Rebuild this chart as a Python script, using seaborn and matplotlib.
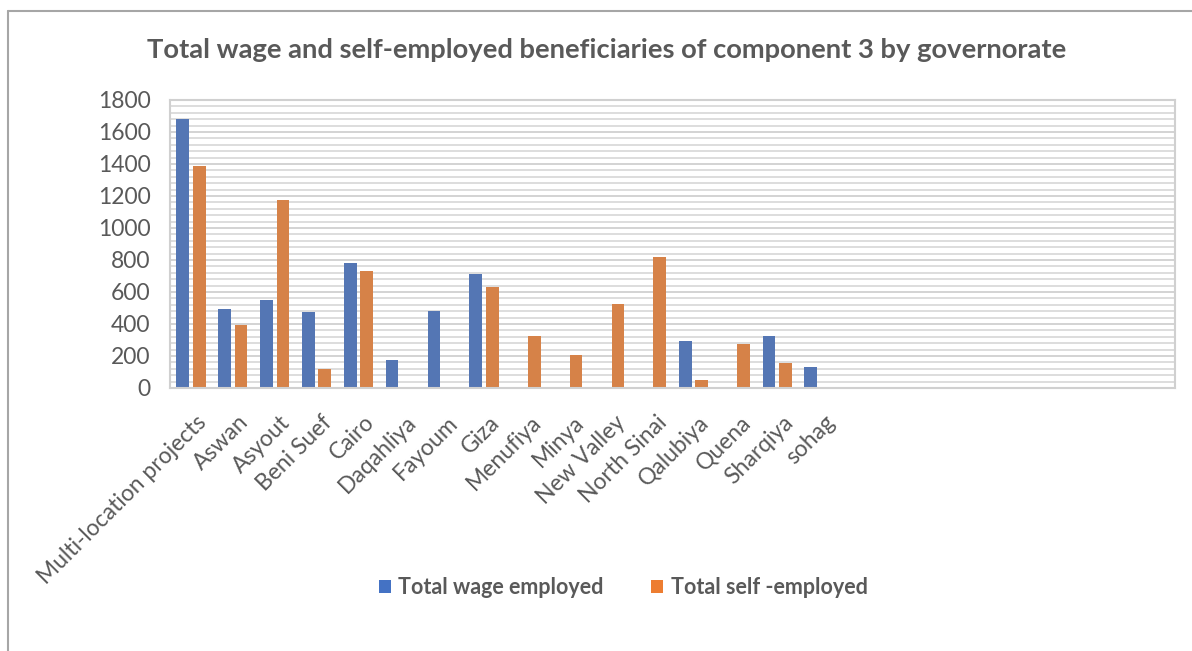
import matplotlib
matplotlib.use("Agg")
import matplotlib.pyplot as plt
from matplotlib.patches import Patch
from matplotlib.ticker import MultipleLocator
import matplotlib.transforms as mtransforms
import numpy as np
import pandas as pd
import seaborn as sns

# Beneficiaries of component 3, by governorate
governorates = [
    "Multi-location projects", "Aswan", "Asyout", "Beni Suef", "Cairo",
    "Daqahliya", "Fayoum", "Giza", "Menufiya", "Minya", "New Valley",
    "North Sinai", "Qalubiya", "Quena", "Sharqiya", "sohag",
]
wage_employed = [1680, 495, 547, 476, 780, 178, 480, 713, 0, 0, 0, 0, 294, 9, 328, 134]
self_employed = [1390, 394, 1173, 119, 730, 0, 0, 630, 328, 205, 524, 816, 52, 275, 159, 0]
series_names = ["Total wage employed", "Total self -employed"]
title = "Total wage and self-employed beneficiaries of component 3 by governorate"

BLUE = "#4472C4"
ORANGE = "#ED7D31"
TEXT = "#595959"

df = pd.DataFrame({
    "governorate": governorates * 2,
    "series": [series_names[0]] * len(governorates) + [series_names[1]] * len(governorates),
    "value": wage_employed + self_employed,
})

sns.set_theme(style="white")
plt.rcParams["font.family"] = ["Lato", "DejaVu Sans"]

W, H = 1192, 651
fig = plt.figure(figsize=(W / 100, H / 100), dpi=100)

# outer chart frame (only top and left edges show)
fig.add_artist(plt.Line2D([8 / W, 8 / W], [0, 1 - 11 / H], color="#a6a6a6", lw=1.5))
fig.add_artist(plt.Line2D([8 / W, 1], [1 - 11 / H, 1 - 11 / H], color="#a6a6a6", lw=1.5))

left, right, top, bottom = 170, 1175, 100, 388
ax = fig.add_axes([left / W, 1 - bottom / H, (right - left) / W, (bottom - top) / H])

sns.barplot(
    data=df, x="governorate", y="value", hue="series", order=governorates,
    hue_order=series_names, palette=[BLUE, ORANGE], width=0.786, gap=0.23,
    linewidth=0, legend=False, ax=ax,
)

# category axis continues with 8 empty slots after the last governorate
ax.set_xlim(-0.5, 23.5)
ax.set_ylim(0, 1800)
ax.yaxis.set_major_locator(MultipleLocator(200))
ax.yaxis.set_minor_locator(MultipleLocator(40))
ax.grid(True, which="major", axis="y", color="#d0d0d0", lw=1.3)
ax.grid(True, which="minor", axis="y", color="#dadada", lw=1.3)
ax.set_axisbelow(True)
for s in ax.spines.values():
    s.set_color("#d0d0d0")
    s.set_linewidth(1.5)

ax.set_xlabel("")
ax.set_ylabel("")
ax.tick_params(axis="both", which="both", length=0, colors=TEXT)
ax.tick_params(axis="y", labelsize=16.5, pad=14)
ax.tick_params(axis="x", labelsize=16.5, pad=17)
shift = mtransforms.ScaledTranslation(5 / 100, 0, fig.dpi_scale_trans)
for lab in ax.get_xticklabels():
    lab.set_rotation(45)
    lab.set_ha("right")
    lab.set_va("top")
    lab.set_rotation_mode("anchor")
    lab.set_transform(lab.get_transform() + shift)

fig.text(607 / W, 1 - 50 / H, title, ha="center", va="center",
         fontsize=19.7, fontweight="bold", color=TEXT)

handles = [Patch(facecolor=BLUE, edgecolor="none"), Patch(facecolor=ORANGE, edgecolor="none")]
fig.legend(handles, series_names, loc="center", bbox_to_anchor=(623 / W, 1 - 588 / H),
           ncol=2, frameon=False, handlelength=0.56, handleheight=0.56, handletextpad=0.35,
           columnspacing=2.2, prop={"size": 15.5, "weight": "bold"}, labelcolor=TEXT)

fig.savefig("out.png", dpi=100, facecolor="white")
